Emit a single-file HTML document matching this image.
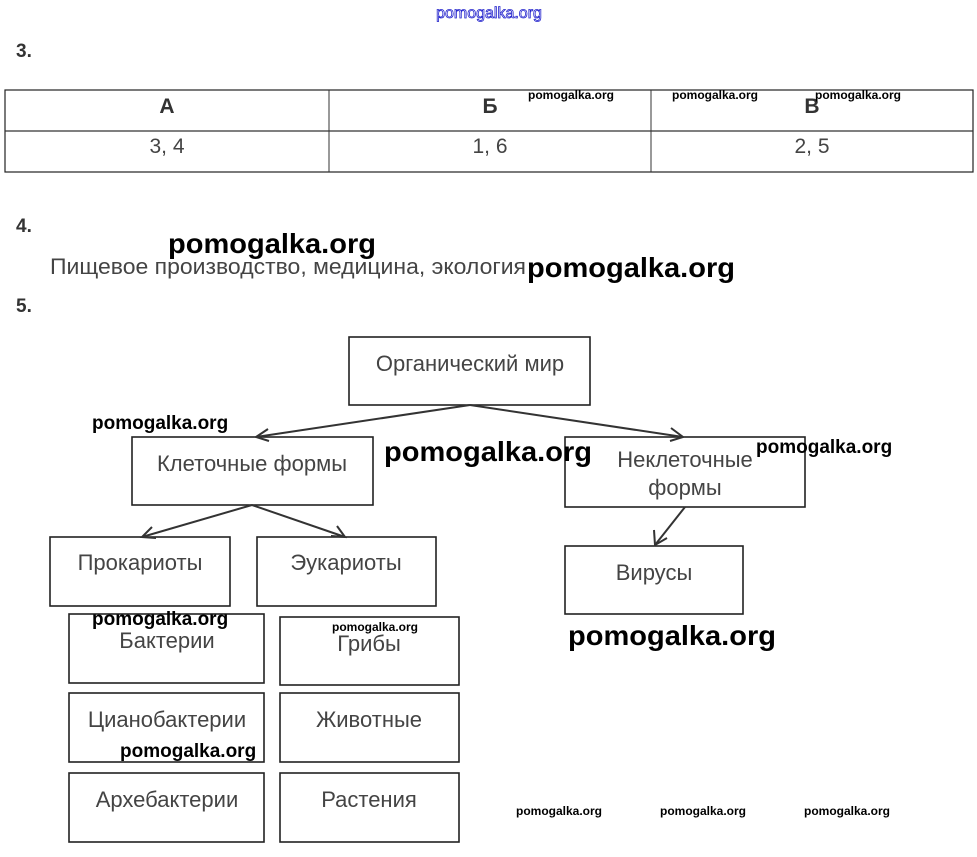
<!DOCTYPE html>
<html><head><meta charset="utf-8"><style>
body{margin:0;background:#fff;width:977px;height:857px;overflow:hidden}
svg{display:block}
.t{font-family:"Liberation Sans",sans-serif;fill:#444;font-size:22px}
.tt{font-family:"Liberation Sans",sans-serif;fill:#444;font-size:21px}
.w{font-family:"Liberation Sans",sans-serif;font-weight:bold;fill:#000}
.n{font-family:"Liberation Sans",sans-serif;font-weight:bold;fill:#333;font-size:19px}
rect{fill:none;stroke:#222;stroke-width:1.6}
line,polyline{stroke:#333;stroke-width:2;fill:none}
</style></head><body>
<svg width="977" height="857" viewBox="0 0 977 857">
<text x="489" y="18" text-anchor="middle" font-family="Liberation Sans,sans-serif" font-size="16" fill="#fff" stroke="#22c" stroke-width="0.8">pomogalka.org</text>
<text class="n" x="16" y="57">3.</text>
<rect x="5" y="90" width="968" height="82" style="stroke-width:1.2"/>
<line x1="5" y1="131" x2="973" y2="131" style="stroke-width:1.2"/>
<line x1="329" y1="90" x2="329" y2="172" style="stroke-width:1"/>
<line x1="651" y1="90" x2="651" y2="172" style="stroke-width:1"/>
<text class="tt" x="167" y="113" text-anchor="middle" style="font-weight:bold;fill:#333">А</text>
<text class="tt" x="490" y="113" text-anchor="middle" style="font-weight:bold;fill:#333">Б</text>
<text class="tt" x="812" y="113" text-anchor="middle" style="font-weight:bold;fill:#333">В</text>
<text class="tt" x="167" y="153" text-anchor="middle">3, 4</text>
<text class="tt" x="490" y="153" text-anchor="middle">1, 6</text>
<text class="tt" x="812" y="153" text-anchor="middle">2, 5</text>
<text class="w" x="528" y="99" font-size="12">pomogalka.org</text>
<text class="w" x="672" y="99" font-size="12">pomogalka.org</text>
<text class="w" x="815" y="99" font-size="12">pomogalka.org</text>
<text class="n" x="16" y="232">4.</text>
<text class="t" x="50" y="274" textLength="476" lengthAdjust="spacingAndGlyphs">Пищевое производство, медицина, экология</text>
<text class="w" x="168" y="253" font-size="28" textLength="208" lengthAdjust="spacingAndGlyphs">pomogalka.org</text>
<text class="w" x="527" y="277" font-size="28" textLength="208" lengthAdjust="spacingAndGlyphs">pomogalka.org</text>
<text class="n" x="16" y="312">5.</text>

<rect x="349" y="337" width="241" height="68"/>
<text class="t" x="470" y="371" text-anchor="middle">Органический мир</text>
<rect x="132" y="437" width="241" height="68"/>
<text class="t" x="252" y="471" text-anchor="middle">Клеточные формы</text>
<rect x="565" y="437" width="240" height="70"/>
<text class="t" x="685" y="467" text-anchor="middle">Неклеточные</text>
<text class="t" x="685" y="495" text-anchor="middle">формы</text>
<rect x="50" y="537" width="180" height="69"/>
<text class="t" x="140" y="570" text-anchor="middle">Прокариоты</text>
<rect x="257" y="537" width="179" height="69"/>
<text class="t" x="346" y="570" text-anchor="middle">Эукариоты</text>
<rect x="565" y="546" width="178" height="68"/>
<text class="t" x="654" y="580" text-anchor="middle">Вирусы</text>
<rect x="69" y="614" width="195" height="69"/>
<text class="t" x="167" y="648" text-anchor="middle">Бактерии</text>
<rect x="280" y="617" width="179" height="68"/>
<text class="t" x="369" y="651" text-anchor="middle">Грибы</text>
<rect x="69" y="693" width="195" height="69"/>
<text class="t" x="167" y="727" text-anchor="middle">Цианобактерии</text>
<rect x="280" y="693" width="179" height="69"/>
<text class="t" x="369" y="727" text-anchor="middle">Животные</text>
<rect x="69" y="773" width="195" height="69"/>
<text class="t" x="167" y="807" text-anchor="middle">Архебактерии</text>
<rect x="280" y="773" width="179" height="69"/>
<text class="t" x="369" y="807" text-anchor="middle">Растения</text>

<line x1="470" y1="405" x2="256" y2="437"/>
<polyline points="268,429 256,437 269,441"/>
<line x1="470" y1="405" x2="683" y2="437"/>
<polyline points="671,428 683,437 670,441"/>
<line x1="252" y1="505" x2="142" y2="537"/>
<polyline points="152,527 142,537 156,538"/>
<line x1="252" y1="505" x2="345" y2="537"/>
<polyline points="331,536 345,537 337,526"/>
<line x1="685" y1="507" x2="655" y2="545"/>
<polyline points="654,530 655,545 667,538"/>

<text class="w" x="92" y="429" font-size="19">pomogalka.org</text>
<text class="w" x="384" y="461" font-size="28" textLength="208" lengthAdjust="spacingAndGlyphs">pomogalka.org</text>
<text class="w" x="756" y="453" font-size="19">pomogalka.org</text>
<text class="w" x="92" y="625" font-size="19">pomogalka.org</text>
<text class="w" x="332" y="631" font-size="12">pomogalka.org</text>
<text class="w" x="568" y="645" font-size="28" textLength="208" lengthAdjust="spacingAndGlyphs">pomogalka.org</text>
<text class="w" x="120" y="757" font-size="19">pomogalka.org</text>
<text class="w" x="516" y="815" font-size="12">pomogalka.org</text>
<text class="w" x="660" y="815" font-size="12">pomogalka.org</text>
<text class="w" x="804" y="815" font-size="12">pomogalka.org</text>
</svg>
</body></html>
